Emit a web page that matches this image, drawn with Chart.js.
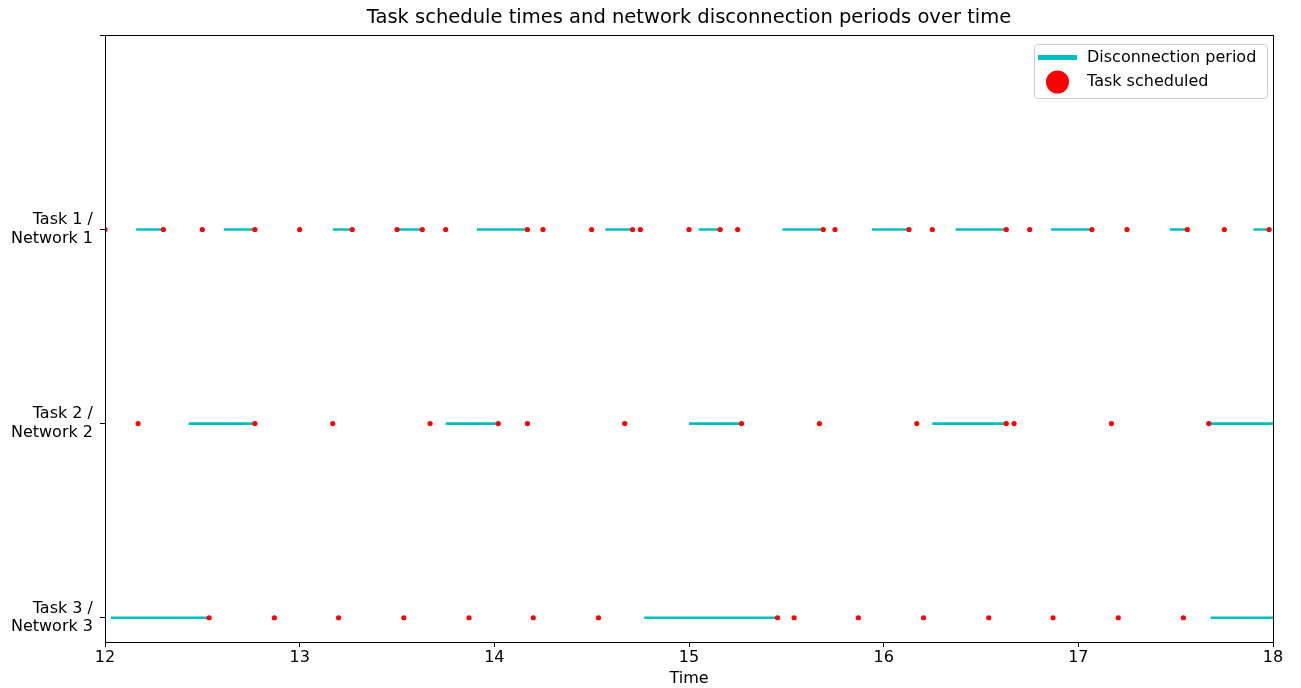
<!DOCTYPE html>
<html>
<head>
<meta charset="utf-8">
<script src="https://cdn.jsdelivr.net/npm/chart.js@4/dist/chart.umd.min.js"></script>
<style>
  html, body { margin: 0; padding: 0; background: #fff; }
  canvas { display: block; }
</style>
</head>
<body>
<canvas id="scheduleChart" width="1301" height="688"></canvas>
<script>
// Rows (y value) and their tick labels
const rowValues = [0, 1, 2, 3];
const rowLabels = [['Task 3 /', 'Network 3'], ['Task 2 /', 'Network 2'], ['Task 1 /', 'Network 1'], ''];
const xTicks = [12, 13, 14, 15, 16, 17, 18];

// Task 1 / Network 1
const task1Scheduled = [12.0, 12.30, 12.5, 12.77, 13.0, 13.27, 13.5, 13.63, 13.75, 14.17, 14.25, 14.5, 14.71, 14.75,
    15.0, 15.16, 15.25, 15.69, 15.75, 16.13, 16.25, 16.63, 16.75, 17.07, 17.25, 17.56, 17.75, 17.98];
const task1DiscStart = [12.16, 12.61, 13.17, 13.50, 13.91, 14.57, 15.05, 15.48, 15.94, 16.37, 16.86, 17.47, 17.90];
const task1DiscEnd = [12.30, 12.77, 13.27, 13.63, 14.17, 14.71, 15.16, 15.69, 16.13, 16.63, 17.07, 17.56, 17.98];

// Task 2 / Network 2
const task2Scheduled = [12.17, 12.77, 13.17, 13.67, 14.02, 14.17, 14.67, 15.27, 15.67, 16.17, 16.63, 16.67, 17.17, 17.67];
const task2DiscStart = [12.43, 13.75, 15.0, 16.25, 17.67];
const task2DiscEnd = [12.77, 14.02, 15.27, 16.63, 18.0];

// Task 3 / Network 3
const task3Scheduled = [12.535, 12.87, 13.20, 13.535, 13.87, 14.20, 14.535, 15.455, 15.54, 15.87, 16.205, 16.54, 16.87, 17.205, 17.54];
const task3DiscStart = [12.03, 14.77, 17.68];
const task3DiscEnd = [12.535, 15.455, 18.0];

const discColor = '#00bfbf';
const taskColor = '#ff0000';
const fontFamily = '"DejaVu Sans", sans-serif';

// Build datasets
const datasets = [];
function addDisconnections(starts, ends, row) {
    starts.forEach(function(s, i) {
        datasets.push({
            type: 'line',
            label: 'Disconnection period',
            data: [{ x: s, y: row }, { x: ends[i], y: row }],
            borderColor: discColor,
            borderWidth: 2.6,
            pointRadius: 0,
            fill: false,
            order: 2
        });
    });
}
function addScheduled(times, row) {
    datasets.push({
        type: 'scatter',
        label: 'Task scheduled',
        data: times.map(function(t) { return { x: t, y: row }; }),
        backgroundColor: taskColor,
        borderWidth: 0,
        pointRadius: 2.6,
        order: 1
    });
}
addDisconnections(task1DiscStart, task1DiscEnd, 2);
addDisconnections(task2DiscStart, task2DiscEnd, 1);
addDisconnections(task3DiscStart, task3DiscEnd, 0);
addScheduled(task1Scheduled, 2);
addScheduled(task2Scheduled, 1);
addScheduled(task3Scheduled, 0);

// Frame + legend box drawn on top
const framePlugin = {
    id: 'frameAndLegend',
    afterDraw: function(chart) {
        const ctx = chart.ctx;
        const a = chart.chartArea;
        ctx.save();
        ctx.strokeStyle = '#000';
        ctx.lineWidth = 1;
        ctx.strokeRect(Math.round(a.left) + 0.5, Math.round(a.top) + 0.5,
            Math.round(a.right - a.left), Math.round(a.bottom - a.top));

        // legend
        const bx = 1034, by = 44, bw = 233, bh = 54;
        ctx.fillStyle = 'rgba(255,255,255,0.8)';
        ctx.strokeStyle = '#cccccc';
        ctx.beginPath();
        ctx.roundRect(bx + 0.5, by + 0.5, bw, bh, 3);
        ctx.fill();
        ctx.stroke();

        ctx.strokeStyle = discColor;
        ctx.lineWidth = 5;
        ctx.beginPath();
        ctx.moveTo(1038, 57.5);
        ctx.lineTo(1077, 57.5);
        ctx.stroke();

        ctx.fillStyle = taskColor;
        ctx.beginPath();
        ctx.arc(1057.5, 82, 11.5, 0, Math.PI * 2);
        ctx.fill();

        ctx.fillStyle = '#000';
        ctx.font = '16px ' + fontFamily;
        ctx.textBaseline = 'middle';
        ctx.textAlign = 'left';
        ctx.fillText('Disconnection period', 1087, 57.5);
        ctx.fillText('Task scheduled', 1087, 82);
        ctx.restore();
    }
};

new Chart(document.getElementById('scheduleChart'), {
    data: { datasets: datasets },
    options: {
        responsive: false,
        animation: false,
        devicePixelRatio: 1,
        layout: { padding: { left: 0, right: 28, top: 0, bottom: 0 } },
        plugins: {
            legend: { display: false },
            tooltip: { enabled: false },
            title: {
                display: true,
                fullSize: false,
                text: 'Task schedule times and network disconnection periods over time',
                color: '#000',
                font: { family: fontFamily, size: 19.5, weight: 'normal' },
                padding: { top: 6, bottom: 6 }
            }
        },
        scales: {
            x: {
                type: 'linear',
                min: 12,
                max: 18,
                afterBuildTicks: function(scale) {
                    scale.ticks = xTicks.map(function(v) { return { value: v }; });
                },
                afterFit: function(scale) { scale.height = 46; },
                grid: { display: true, drawOnChartArea: false, tickLength: 5, color: '#000' },
                border: { color: '#000', width: 1 },
                ticks: { color: '#000', font: { family: fontFamily, size: 16 }, padding: 1, maxRotation: 0 },
                title: {
                    display: true,
                    text: 'Time',
                    color: '#000',
                    font: { family: fontFamily, size: 16 },
                    padding: { top: 0, bottom: 0 }
                }
            },
            y: {
                type: 'linear',
                min: -0.125,
                max: 3,
                afterBuildTicks: function(scale) {
                    scale.ticks = rowValues.map(function(v) { return { value: v }; });
                },
                afterFit: function(scale) { scale.width = 105; },
                grid: { display: true, drawOnChartArea: false, tickLength: 5, color: '#000' },
                border: { color: '#000', width: 1 },
                ticks: {
                    color: '#000',
                    font: { family: fontFamily, size: 16, lineHeight: 1.17 },
                    padding: 7,
                    callback: function(value) {
                        const idx = rowValues.indexOf(value);
                        return idx >= 0 ? rowLabels[idx] : '';
                    }
                }
            }
        }
    },
    plugins: [framePlugin]
});
</script>
</body>
</html>
